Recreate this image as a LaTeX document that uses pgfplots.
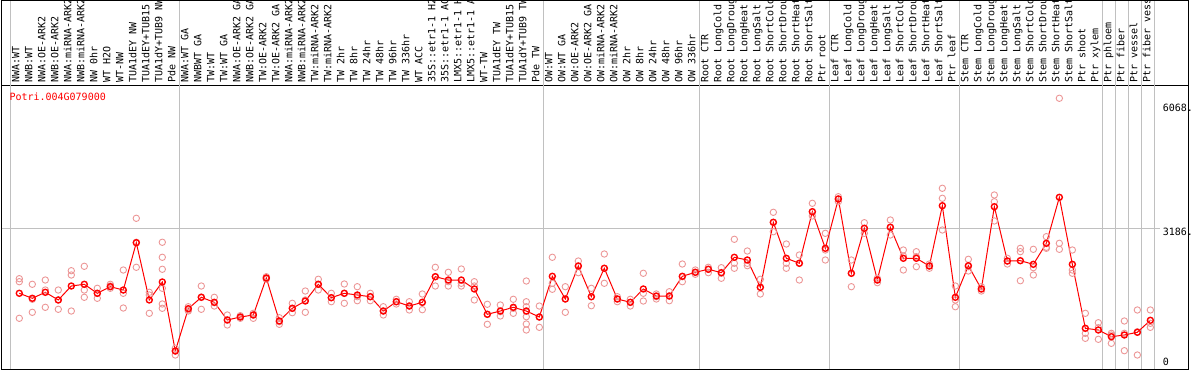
\documentclass[border=0pt]{standalone}
\usepackage{pgfplots}
\usepackage{pgfplotstable}
\pgfplotsset{compat=1.18}
\usepackage{fontspec}
\newfontfamily\mono{DejaVu Sans Mono}
\definecolor{rep}{RGB}{236,150,150}
\definecolor{gridgray}{RGB}{192,192,192}

\pgfplotstableread{
x y
0 1679
1 1563
2 1702
3 1524
4 1848
5 1888
6 1679
7 1832
8 1755
9 2852
10 1524
11 1941
12 341
13 1322
14 1586
15 1470
16 1060
17 1129
18 1176
19 2034
20 1037
21 1331
22 1500
23 1888
24 1577
25 1679
26 1640
27 1600
28 1268
29 1484
30 1384
31 1470
32 2064
33 1987
34 1987
35 1779
36 1192
37 1268
38 1354
39 1268
40 1129
41 2073
42 1547
43 2312
44 1600
45 2259
46 1547
47 1470
48 1779
49 1616
50 1616
51 2073
52 2166
53 2236
54 2157
55 2514
56 2451
57 1818
58 3325
59 2491
60 2375
61 3571
62 2722
63 3866
64 2143
65 3186
66 1987
67 3210
68 2491
69 2491
70 2312
71 3710
72 1586
73 2319
74 1779
75 3687
76 2428
77 2435
78 2351
79 2838
80 3905
81 2351
82 867
83 828
84 673
85 712
86 775
87 1053
}\means

\pgfplotstableread{
x y
0 2018
0 1948
0 1099
1 1888
1 1540
1 1238
2 1987
2 1755
2 1354
3 1755
3 1524
3 1308
4 2203
4 2103
4 1268
5 2305
5 1755
5 1586
6 1795
6 1679
6 1563
7 1888
7 1848
7 1795
8 2219
8 1679
8 1338
9 3418
9 2862
9 2282
10 1702
10 1640
10 1215
11 2862
11 2514
11 2236
11 1795
11 1431
11 1331
12 404
12 341
12 248
13 1368
13 1292
13 1268
14 1848
14 1593
14 1308
15 1586
15 1461
15 1384
16 1176
16 1060
16 944
17 1160
17 1129
17 1099
18 1215
18 1176
18 1099
19 2064
19 2034
19 2004
20 1113
20 1020
20 960
21 1447
21 1331
21 1229
22 1732
22 1524
22 1238
23 2004
23 1888
23 1755
24 1679
24 1577
24 1484
25 1895
25 1679
25 1447
26 1832
26 1600
26 1507
27 1679
27 1600
27 1507
28 1368
28 1268
28 1176
29 1540
29 1484
29 1431
30 1484
30 1384
30 1292
31 1663
31 1470
31 1299
32 2282
32 2064
32 1848
33 2166
33 1948
33 1848
34 2242
34 1911
34 1848
35 1948
35 1848
35 1524
36 1424
36 1192
36 960
37 1408
37 1252
37 1153
38 1540
38 1331
38 1215
39 1964
39 1484
39 1368
39 1268
39 1136
39 967
39 828
40 1384
40 1129
40 890
41 2514
41 1911
41 1772
42 1832
42 1547
42 1238
43 2428
43 2312
43 2157
44 1795
44 1600
44 1391
45 2590
45 2259
45 1911
46 1600
46 1547
46 1484
47 1540
47 1470
47 1384
48 2143
48 1679
48 1500
49 1663
49 1600
49 1547
50 1716
50 1616
50 1507
51 2358
51 2064
51 1948
52 2219
52 2166
52 2120
53 2282
53 2236
53 2157
54 2273
54 2143
54 2027
55 2931
55 2375
55 2259
56 2660
56 2375
56 2319
57 2004
57 1818
57 1663
58 3557
58 3325
58 3107
59 2822
59 2375
59 2259
60 2567
60 2375
60 1987
61 3766
61 3571
61 3472
62 3070
62 2683
62 2451
63 3919
63 3866
63 3803
64 2451
64 2143
64 1832
65 3316
65 3186
65 3070
66 2027
66 1987
66 1925
67 3379
67 3210
67 3031
68 2683
68 2544
68 2219
69 2644
69 2528
69 2296
70 2358
70 2312
70 2259
71 4114
71 3882
71 3147
72 1848
72 1524
72 1368
73 2467
73 2296
73 2196
74 1832
74 1779
74 1732
75 3959
75 3803
75 3356
76 2491
76 2428
76 2358
77 2722
77 2644
77 1971
78 2699
78 2273
78 2103
79 2992
79 2746
79 2722
80 6201
80 2838
80 2699
81 2683
81 2219
81 2143
82 1215
82 751
82 635
83 997
83 881
83 612
84 751
84 712
84 519
85 1037
85 751
85 348
86 1292
86 788
86 248
87 1292
87 983
87 890
}\reps

\begin{document}
\begin{tikzpicture}
\useasboundingbox (0,0) rectangle (1194pt,370pt);
\clip (0,0) rectangle (1194pt,370pt);
\begin{axis}[
  at={(1.7pt,1pt)}, anchor=south west,
  width=1186.3pt, height=284pt, scale only axis,
  xmin=-1.354, xmax=89.9, ymin=-76.5, ymax=6509,
  clip=false,
  axis line style={black, line width=1pt},
  major tick length=0pt,
  xtick={0,...,87},
  xticklabels={NWA:WT,NWB:WT,NWA:OE-ARK2,NWB:OE-ARK2,NWA:miRNA-ARK2,NWB:miRNA-ARK2,NW 0hr,WT H2O,WT-NW,TUA1dEY NW,TUA1dEY+TUB15,TUA1dY+TUB9 NW,Pde NW,
    NWA:WT GA,NWBWT GA,TW:WT,TW:WT GA,NWA:OE-ARK2 GA,NWB:OE-ARK2 GA,TW:OE-ARK2,TW:OE-ARK2 GA,NWA:miRNA-ARK2,NWB:miRNA-ARK2,TW:miRNA-ARK2,TW:miRNA-ARK2,TW 2hr,TW 8hr,TW 24hr,TW 48hr,TW 96hr,TW 336hr,WT ACC,35S::etr1-1 H2,35S::etr1-1 AC,LMX5::etr1-1 H,LMX5::etr1-1 A,WT-TW,TUA1dEY TW,TUA1dEY+TUB15,TUA1dY+TUB9 TW,Pde TW,
    OW:WT,OW:WT GA,OW:OE-ARK2,OW:OE-ARK2 GA,OW:miRNA-ARK2,OW:miRNA-ARK2,OW 2hr,OW 8hr,OW 24hr,OW 48hr,OW 96hr,OW 336hr,
    Root CTR,Root LongCold,Root LongDroug,Root LongHeat,Root LongSalt,Root ShortCold,Root ShortDrou,Root ShortHeat,Root ShortSalt,Ptr root,
    Leaf CTR,Leaf LongCold,Leaf LongDroug,Leaf LongHeat,Leaf LongSalt,Leaf ShortCold,Leaf ShortDrou,Leaf ShortHeat,Leaf ShortSalt,Ptr leaf,
    Stem CTR,Stem LongCold,Stem LongDroug,Stem LongHeat,Stem LongSalt,Stem ShortCold,Stem ShortDrou,Stem ShortHeat,Stem ShortSalt,Ptr shoot,
    Ptr xylem,Ptr phloem,Ptr fiber,Ptr vessel,Ptr fiber vess},
  xticklabel pos=upper,
  xticklabel style={rotate=90, anchor=base west, font=\mono, inner sep=2.5pt},
  ytick={3186,6068}, yticklabels={3186.,6068.},
  yticklabel pos=right,
  yticklabel style={anchor=north west, xshift=-25.5pt, inner sep=0pt, font=\mono},
  extra y ticks={0}, extra y tick labels={0},
  extra y tick style={yticklabel style={yshift=7.4pt}},
]
\pgfplotsinvokeforeach{-0.66,12.34,40.34,52.34,62.34,72.34,83.34,84.34,85.34,86.34,87.34}{
  \draw[gridgray, line width=1pt] (axis cs:#1,-76.5) -- (axis cs:#1,8481);
}
\draw[gridgray, line width=1pt] (axis cs:-1.354,3186) -- (axis cs:87.75,3186);
\draw[black, line width=1pt] (axis cs:-1.354,6509) -- (axis cs:-1.354,8470) -- (axis cs:89.9,8470) -- (axis cs:89.9,6509);
\addplot[only marks, mark=o, mark size=3.2pt, mark options={draw=rep, line width=0.9pt}] table {\reps};
\addplot[red, line width=1pt, mark=o, mark size=3pt, mark options={draw=red, line width=1.4pt}] table {\means};
\end{axis}
\node[anchor=base west, font=\mono, text=red, inner sep=0pt] at (9.3pt,269.5pt) {Potri.004G079000};
\end{tikzpicture}
\end{document}
